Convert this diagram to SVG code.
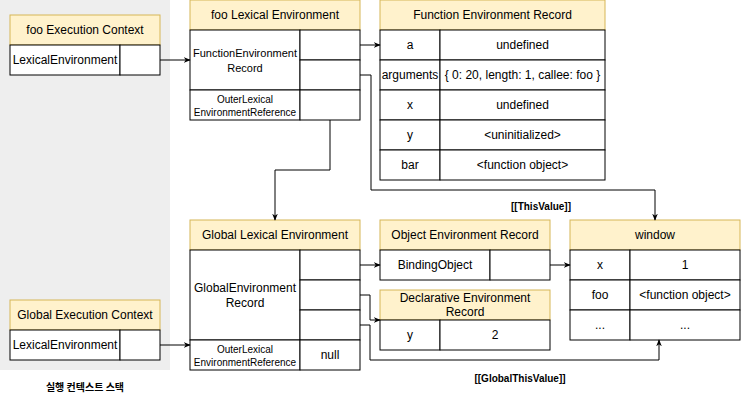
<svg xmlns="http://www.w3.org/2000/svg" width="741" height="401" viewBox="0 0 741 401">
<defs>
<style>
.h{fill:#fff2cc;stroke:#d6b656;stroke-width:1}
.c{fill:#ffffff;stroke:#000000;stroke-width:1}
text{font-family:"Liberation Sans",Arial,sans-serif;font-size:12px;fill:#000;text-anchor:middle;dominant-baseline:central}
.s{font-size:10px}
.m{font-size:11px}
.b{font-size:10px;font-weight:bold}
.ln{fill:none;stroke:#000;stroke-width:1}
</style>
<marker id="a" viewBox="0 0 10 10" refX="9" refY="5" markerWidth="7" markerHeight="7" orient="auto" markerUnits="userSpaceOnUse"><path d="M0,1 L10,5 L0,9 L3,5 Z" fill="#000"/></marker>
</defs>
<rect x="0" y="0" width="170" height="370" fill="#eeeeee"/>
<g id="fooEC">
<rect class="h" x="10" y="15" width="150" height="30"/>
<text x="85" y="30">foo Execution Context</text>
<rect class="c" x="10" y="45" width="110" height="30"/>
<rect class="c" x="120" y="45" width="40" height="30"/>
<text x="65" y="60">LexicalEnvironment</text>
</g>
<g id="fooLE">
<rect class="h" x="190" y="0" width="170" height="30"/>
<text x="275" y="15">foo Lexical Environment</text>
<rect class="c" x="190" y="30" width="110" height="60"/>
<text class="m" x="245" y="53">FunctionEnvironment</text>
<text class="m" x="245" y="68">Record</text>
<rect class="c" x="300" y="30" width="60" height="30"/>
<rect class="c" x="300" y="60" width="60" height="30"/>
<rect class="c" x="190" y="90" width="110" height="30"/>
<rect class="c" x="300" y="90" width="60" height="30"/>
<text class="s" x="245" y="99">OuterLexical</text>
<text class="s" x="245" y="112">EnvironmentReference</text>
</g>
<g id="fer">
<rect class="h" x="380" y="0" width="225" height="30"/>
<text x="492.5" y="15">Function Environment Record</text>
<rect class="c" x="380" y="30" width="60" height="30"/><rect class="c" x="440" y="30" width="165" height="30"/>
<text x="410" y="45">a</text><text x="522.5" y="45">undefined</text>
<rect class="c" x="380" y="60" width="60" height="30"/><rect class="c" x="440" y="60" width="165" height="30"/>
<text x="410" y="75">arguments</text><text x="522.5" y="75">{ 0: 20, length: 1, callee: foo }</text>
<rect class="c" x="380" y="90" width="60" height="30"/><rect class="c" x="440" y="90" width="165" height="30"/>
<text x="410" y="105">x</text><text x="522.5" y="105">undefined</text>
<rect class="c" x="380" y="120" width="60" height="30"/><rect class="c" x="440" y="120" width="165" height="30"/>
<text x="410" y="135">y</text><text x="522.5" y="135">&lt;uninitialized&gt;</text>
<rect class="c" x="380" y="150" width="60" height="30"/><rect class="c" x="440" y="150" width="165" height="30"/>
<text x="410" y="165">bar</text><text x="522.5" y="165">&lt;function object&gt;</text>
</g>
<g id="globalLE">
<rect class="h" x="190" y="220" width="170" height="30"/>
<text x="275" y="235">Global Lexical Environment</text>
<rect class="c" x="190" y="250" width="110" height="90"/>
<text x="245" y="288">GlobalEnvironment</text>
<text x="245" y="303">Record</text>
<rect class="c" x="300" y="250" width="60" height="30"/>
<rect class="c" x="300" y="280" width="60" height="30"/>
<rect class="c" x="300" y="310" width="60" height="30"/>
<rect class="c" x="190" y="340" width="110" height="30"/>
<rect class="c" x="300" y="340" width="60" height="30"/>
<text class="s" x="245" y="349">OuterLexical</text>
<text class="s" x="245" y="362">EnvironmentReference</text>
<text x="330" y="355">null</text>
</g>
<g id="globalEC">
<rect class="h" x="10" y="300" width="150" height="30"/>
<text x="85" y="315">Global Execution Context</text>
<rect class="c" x="10" y="330" width="110" height="30"/>
<rect class="c" x="120" y="330" width="40" height="30"/>
<text x="65" y="345">LexicalEnvironment</text>
</g>
<g id="oer">
<rect class="h" x="380" y="220" width="170" height="30"/>
<text x="465" y="235">Object Environment Record</text>
<rect class="c" x="380" y="250" width="110" height="30"/>
<rect class="c" x="490" y="250" width="60" height="30"/>
<text x="435" y="265">BindingObject</text>
</g>
<g id="der">
<rect class="h" x="380" y="290" width="170" height="30"/>
<text x="465" y="298">Declarative Environment</text>
<text x="465" y="312">Record</text>
<rect class="c" x="380" y="320" width="60" height="30"/>
<rect class="c" x="440" y="320" width="110" height="30"/>
<text x="410" y="335">y</text><text x="495" y="335">2</text>
</g>
<g id="window">
<rect class="h" x="570" y="220" width="170" height="30"/>
<text x="655" y="235">window</text>
<rect class="c" x="570" y="250" width="60" height="30"/><rect class="c" x="630" y="250" width="110" height="30"/>
<text x="600" y="265">x</text><text x="685" y="265">1</text>
<rect class="c" x="570" y="280" width="60" height="30"/><rect class="c" x="630" y="280" width="110" height="30"/>
<text x="600" y="295">foo</text><text x="685" y="295">&lt;function object&gt;</text>
<rect class="c" x="570" y="310" width="60" height="30"/><rect class="c" x="630" y="310" width="110" height="30"/>
<text x="600" y="325">...</text><text x="685" y="325">...</text>
</g>
<g id="connectors">
<path class="ln" d="M160,60 L190,60" marker-end="url(#a)"/>
<path class="ln" d="M360,45 L380,45" marker-end="url(#a)"/>
<path class="ln" d="M360,75 L371,75 L371,190 L655,190 L655,220" marker-end="url(#a)"/>
<path class="ln" d="M330,120 L330,170 L275,170 L275,220" marker-end="url(#a)"/>
<path class="ln" d="M160,345 L190,345" marker-end="url(#a)"/>
<path class="ln" d="M360,265 L380,265" marker-end="url(#a)"/>
<path class="ln" d="M360,295 L370,295 L370,320 L380,320" marker-end="url(#a)"/>
<path class="ln" d="M360,325 L370,325 L370,360 L659,360 L659,340" marker-end="url(#a)"/>
<path class="ln" d="M550,265 L570,265" marker-end="url(#a)"/>
<text class="b" x="541" y="206">[[ThisValue]]</text>
<text class="b" x="520" y="378">[[GlobalThisValue]]</text>
</g>
<text class="b" x="85" y="386" style="font-family:'Noto Sans CJK KR',sans-serif">실행 컨텍스트 스택</text>
</svg>
